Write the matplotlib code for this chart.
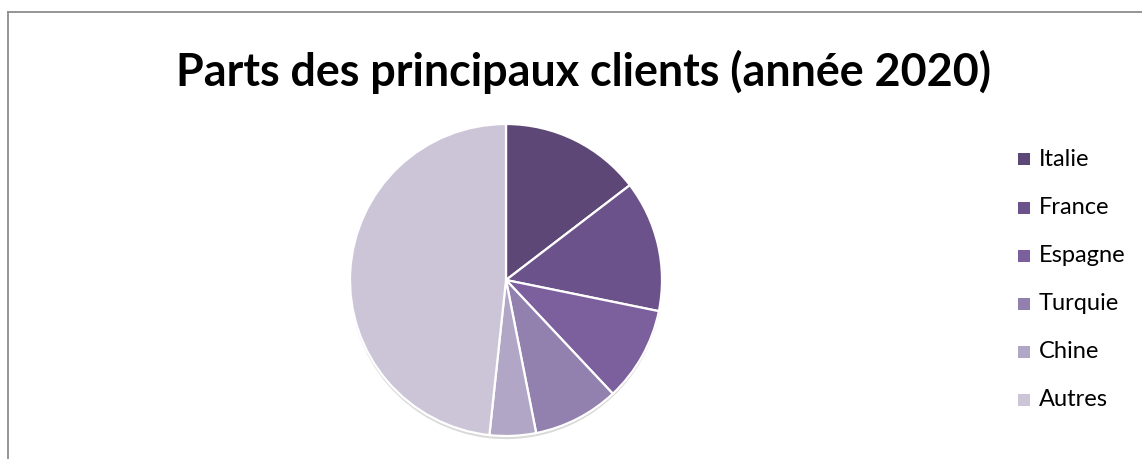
import matplotlib
matplotlib.use("Agg")
import matplotlib.pyplot as plt
from matplotlib.patches import Rectangle
from matplotlib.lines import Line2D

categories = ["Italie", "France", "Espagne", "Turquie", "Chine", "Autres"]
shares = [14.6, 13.6, 9.8, 8.9, 4.8, 48.3]
colors = ["#5D4776", "#6C528A", "#7C5F9D", "#9280AF", "#B2A6C6", "#CCC5D8"]
title = "Parts des principaux clients (année 2020)"

W, H = 1142, 459
fig = plt.figure(figsize=(W / 100, H / 100), dpi=100)
fig.patch.set_facecolor("white")

# frame (cropped chart border)
fig.add_artist(Line2D([8 / W, 1.0], [1 - 12 / H, 1 - 12 / H], color="#8c8c8c", lw=1.3))
fig.add_artist(Line2D([8 / W, 8 / W], [0, 1 - 12 / H], color="#8c8c8c", lw=1.3))

cx, cy, r = 506, 280, 156
ax = fig.add_axes([(cx - r) / W, (H - cy - r) / H, 2 * r / W, 2 * r / H])
# soft shadow
ax.pie(shares, startangle=90, counterclock=False, radius=1.0,
       colors=["#d9d9d9"] * len(shares), center=(0.0, -0.02),
       wedgeprops=dict(linewidth=0))
wedges, _ = ax.pie(shares, startangle=90, counterclock=False, radius=1.0, colors=colors,
                   wedgeprops=dict(edgecolor="white", linewidth=1.6))
ax.set_xlim(-1.0, 1.0)
ax.set_ylim(-1.0, 1.0)
ax.set_aspect("equal")
ax.axis("off")

fig.text(584 / W, 1 - 72 / H, title, ha="center", va="center",
         fontsize=32.3, fontweight="bold", family="Lato", color="black")

leg_y = [159, 208, 256, 304, 352, 400]
for lab, col, y in zip(categories, colors, leg_y):
    fig.add_artist(Rectangle((1018 / W, 1 - (y + 6) / H), 12 / W, 12 / H,
                             transform=fig.transFigure, facecolor=col, edgecolor="none"))
    fig.text(1039 / W, 1 - y / H, lab, ha="left", va="center",
             fontsize=17, family="Lato", color="black")

fig.savefig("out.png", dpi=100)
